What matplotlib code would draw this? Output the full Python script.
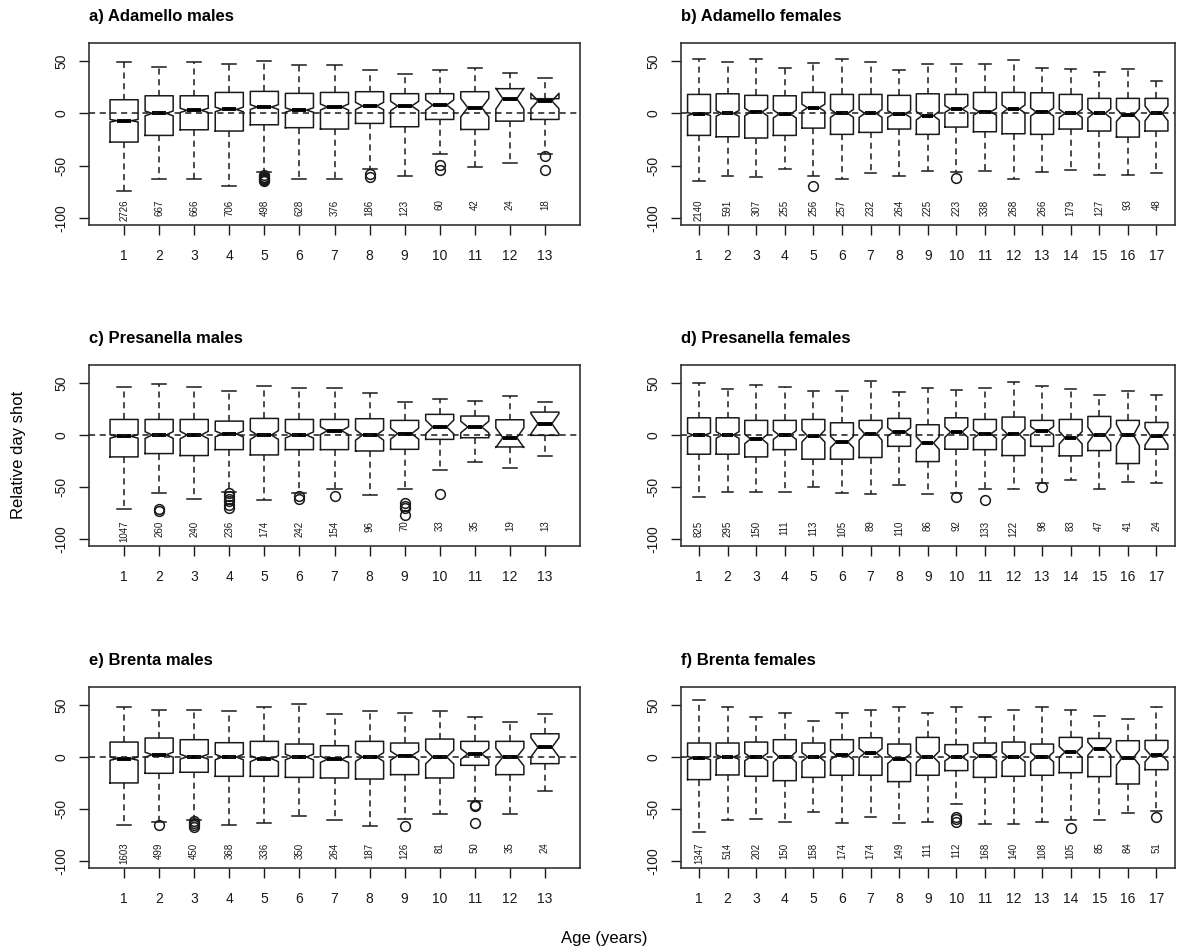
import numpy as np
import matplotlib.pyplot as plt

plt.rcParams['font.family'] = ['Liberation Sans', 'DejaVu Sans']

# ---- data: whisker high, Q3, median, Q1, whisker low, outliers, n ----
# a) Adamello males
a_hi = [48.9, 44.4, 49.2, 47.3, 50.2, 46.3, 46.3, 41.5, 37.8, 41.3, 43.9, 39.1, 34.3]
a_q3 = [13.1, 16.9, 16.9, 20.1, 21.1, 19.2, 20.1, 20.8, 18.9, 18.9, 20.8, 23.7, 14.1]
a_med = [-7.0, 0.0, 2.9, 3.8, 6.1, 3.2, 6.1, 7.1, 7.1, 8.0, 5.5, 14.1, 11.9]
a_q1 = [-27.5, -21.1, -15.7, -16.9, -10.9, -13.7, -15.0, -9.6, -12.8, -5.8, -15.4, -7.4, -5.8]
a_lo = [-74.8, -62.9, -62.9, -70.0, -55.9, -62.9, -62.9, -53.2, -59.6, -39.4, -51.6, -47.4, -39.4]
a_out = {5: [-59, -61, -62, -63, -64, -65], 8: [-58.5, -61], 10: [-49, -54], 13: [-41, -54]}
a_n = [2726, 667, 666, 706, 498, 628, 376, 186, 123, 60, 42, 24, 18]

# b) Adamello females
b_hi = [52.1, 49.2, 52.1, 43.1, 48.6, 52.1, 49.2, 41.2, 47.3, 47.3, 47.3, 51.1, 43.1, 42.2, 39.3, 42.8, 31.3]
b_q3 = [18.2, 18.8, 17.3, 16.9, 20.1, 18.2, 18.2, 17.3, 18.8, 18.2, 20.1, 20.1, 19.8, 18.2, 14.4, 14.4, 14.4]
b_med = [-0.6, 0.0, 1.3, -0.6, 5.4, 0.0, 0.0, -0.6, -2.2, 4.2, 1.6, 4.2, 1.3, 0.0, 0.0, -1.6, 0.0]
b_q1 = [-21.1, -22.4, -23.6, -21.1, -14.1, -20.1, -18.2, -15.0, -20.1, -13.1, -17.6, -19.5, -20.1, -15.0, -16.9, -22.7, -16.9]
b_lo = [-65.2, -59.7, -61.0, -53.0, -59.7, -62.9, -56.9, -59.7, -55.3, -55.9, -55.3, -62.9, -55.9, -54.6, -58.8, -58.8, -56.9]
b_out = {5: [-70], 10: [-62]}
b_n = [2140, 591, 307, 255, 256, 257, 232, 264, 225, 223, 338, 268, 266, 179, 127, 93, 48]

# c) Presanella males
c_hi = [46.0, 49.2, 46.0, 42.8, 47.0, 45.0, 45.0, 40.7, 31.7, 34.3, 32.7, 37.2, 31.7]
c_q3 = [15.0, 15.0, 15.0, 13.4, 16.0, 15.0, 15.0, 15.7, 14.1, 19.9, 18.3, 14.7, 22.1]
c_med = [-1.3, 0.0, 0.0, 1.0, 0.0, 0.0, 4.2, 0.0, 1.3, 7.7, 7.7, -2.6, 10.9]
c_q1 = [-21.1, -17.9, -19.8, -14.1, -19.2, -14.1, -14.1, -15.4, -13.8, -4.2, -2.6, -11.5, -0.3]
c_lo = [-71.6, -56.2, -61.3, -54.6, -62.9, -56.2, -52.4, -57.4, -52.2, -34.0, -26.0, -31.4, -20.5]
c_out = {2: [-71, -73], 4: [-56, -59, -62, -64, -67, -70], 6: [-59, -61.5], 7: [-58.8],
         9: [-66, -68, -70, -77], 10: [-56.4]}
c_n = [1047, 260, 240, 236, 174, 242, 154, 96, 70, 33, 35, 19, 13]

# d) Presanella females
d_hi = [49.8, 44.4, 48.2, 46.0, 42.2, 42.5, 52.4, 41.9, 45.4, 43.5, 45.4, 50.8, 47.3, 44.1, 39.0, 42.5, 39.0]
d_q3 = [16.6, 16.6, 14.1, 14.1, 15.0, 11.8, 14.1, 16.0, 9.9, 16.6, 15.0, 17.3, 14.1, 15.0, 17.9, 14.1, 12.1]
d_med = [0.0, 0.0, -3.8, 0.0, -1.0, -6.7, 1.0, 2.9, -7.7, 2.9, 1.0, 0.6, 4.2, -2.6, 0.0, 0.0, -1.3]
d_q1 = [-18.5, -18.5, -21.1, -14.1, -23.3, -23.3, -21.7, -10.9, -25.6, -13.7, -14.1, -19.8, -10.9, -20.1, -15.0, -27.5, -13.7]
d_lo = [-59.4, -55.3, -55.0, -55.3, -50.5, -56.2, -56.9, -48.2, -56.9, -56.2, -52.1, -52.4, -46.0, -43.8, -51.8, -45.0, -46.0]
d_out = {10: [-60], 11: [-62.6], 13: [-49.8]}
d_n = [825, 295, 150, 111, 113, 105, 89, 110, 86, 92, 133, 122, 98, 83, 47, 41, 24]

# e) Brenta males
e_hi = [47.8, 45.5, 45.5, 43.9, 47.8, 51.0, 41.7, 43.9, 42.3, 43.9, 38.5, 33.3, 41.7]
e_q3 = [14.4, 18.3, 16.7, 13.8, 15.1, 12.5, 10.9, 15.1, 13.5, 17.3, 15.1, 15.1, 22.4]
e_med = [-1.6, 2.2, 0.3, 0.0, -1.6, 0.0, -2.2, 0.0, 1.3, 0.0, 2.9, 0.0, 9.3]
e_q1 = [-25.0, -15.7, -14.7, -18.6, -18.6, -19.6, -20.2, -21.2, -17.0, -20.2, -8.0, -17.0, -6.4]
e_lo = [-65.7, -62.8, -60.3, -65.7, -63.5, -56.4, -60.6, -66.7, -59.6, -55.4, -42.0, -55.4, -32.4]
e_out = {2: [-66], 3: [-62, -64, -66, -67], 9: [-66.7], 11: [-45.8, -46.8, -63.5]}
e_n = [1603, 499, 450, 368, 336, 350, 264, 187, 126, 81, 50, 35, 24]

# f) Brenta females
f_hi = [54.8, 47.8, 38.1, 42.6, 34.9, 42.6, 45.8, 47.8, 42.6, 47.8, 38.8, 45.8, 48.7, 45.8, 40.0, 36.2, 48.4]
f_q3 = [13.5, 13.5, 14.4, 16.7, 13.5, 16.7, 18.6, 12.5, 18.9, 11.9, 13.5, 14.4, 12.5, 18.9, 17.9, 15.7, 16.0]
f_med = [-1.0, 0.0, 0.0, 0.0, 0.0, 1.6, 3.8, -1.6, 0.0, 0.0, 1.0, 0.0, 0.0, 4.8, 8.0, -0.6, 1.6]
f_q1 = [-21.8, -17.3, -18.6, -22.8, -19.6, -17.6, -17.6, -23.7, -17.6, -13.1, -19.6, -18.6, -17.6, -15.1, -18.9, -26.0, -12.2]
f_lo = [-72.1, -60.9, -59.6, -62.5, -53.2, -63.5, -57.4, -63.5, -62.2, -45.5, -64.4, -64.4, -62.5, -60.3, -60.3, -53.5, -52.2]
f_out = {10: [-58, -60, -63], 14: [-68.3], 17: [-58]}
f_n = [1347, 514, 202, 150, 158, 174, 174, 149, 111, 112, 168, 140, 108, 105, 85, 84, 51]

titles = ['a) Adamello males', 'b) Adamello females', 'c) Presanella males',
          'd) Presanella females', 'e) Brenta males', 'f) Brenta females']

panels = [
    (a_hi, a_q3, a_med, a_q1, a_lo, a_out, a_n),
    (b_hi, b_q3, b_med, b_q1, b_lo, b_out, b_n),
    (c_hi, c_q3, c_med, c_q1, c_lo, c_out, c_n),
    (d_hi, d_q3, d_med, d_q1, d_lo, d_out, d_n),
    (e_hi, e_q3, e_med, e_q1, e_lo, e_out, e_n),
    (f_hi, f_q3, f_med, f_q1, f_lo, f_out, f_n),
]

W, H = 1182, 949
fig = plt.figure(figsize=(W / 100, H / 100), dpi=100)

# axes boxes in pixels: left, right, top, bottom
col_x = [(89, 580), (681, 1174.5)]
row_y = [(43, 225), (365, 546), (687, 868)]
title_y = [17, 338, 660]

ink = '#1a1a1a'

for k, (hi, q3, med, q1, lo, out, n) in enumerate(panels):
    r, c = divmod(k, 2)
    (x0, x1), (y0, y1) = col_x[c], row_y[r]
    ax = fig.add_axes([x0 / W, 1 - y1 / H, (x1 - x0) / W, (y1 - y0) / H])

    stats = []
    for i in range(len(med)):
        # R style notch: median +/- 1.58 * IQR / sqrt(n)
        half = 1.58 * (q3[i] - q1[i]) / np.sqrt(n[i])
        stats.append(dict(med=med[i], q1=q1[i], q3=q3[i], whislo=lo[i], whishi=hi[i],
                          cilo=med[i] - half, cihi=med[i] + half,
                          fliers=out.get(i + 1, [])))
    pos = np.arange(1, len(med) + 1)
    ax.bxp(stats, positions=pos, widths=0.8, capwidths=0.4, shownotches=True,
           boxprops=dict(color=ink, linewidth=1.1),
           whiskerprops=dict(color=ink, linewidth=1.1, linestyle=(0, (4, 3))),
           capprops=dict(color=ink, linewidth=1.1),
           medianprops=dict(color='black', linewidth=2.8),
           flierprops=dict(marker='o', markerfacecolor='none', markeredgecolor=ink,
                           markersize=7, markeredgewidth=1.1))

    ax.axhline(0, color=ink, linestyle=(0, (4, 3)), linewidth=1.1, zorder=3)

    for i, cnt in enumerate(n):
        ax.text(pos[i], -82.5, str(cnt), rotation=90, ha='center', va='top',
                fontsize=7, color=ink)

    if len(med) == 13:
        ax.set_xlim(0, 14)
    else:
        ax.set_xlim(0.37, 17.63)
    ax.set_ylim(-107, 67.5)
    ax.set_xticks(pos)
    ax.set_xticklabels([str(p) for p in pos])
    ax.set_yticks([-100, -50, 0, 50])
    ax.set_yticklabels(['-100', '-50', '0', '50'], rotation=90, va='center')
    ax.tick_params(axis='x', length=7, width=1, pad=10, labelsize=10, colors=ink)
    ax.tick_params(axis='y', length=7, width=1, pad=8, labelsize=10, colors=ink)
    for s in ax.spines.values():
        s.set_linewidth(1.2)
        s.set_color('#333333')

    fig.text(x0 / W, 1 - title_y[r] / H, titles[k], ha='left', va='center',
             fontsize=12, fontweight='bold')

fig.text(19 / W, 1 - 455 / H, 'Relative day shot', rotation=90, ha='center',
         va='center', fontsize=12)
fig.text(604 / W, 1 - 938 / H, 'Age (years)', ha='center', va='center', fontsize=12)

plt.savefig('out.png', dpi=100)
